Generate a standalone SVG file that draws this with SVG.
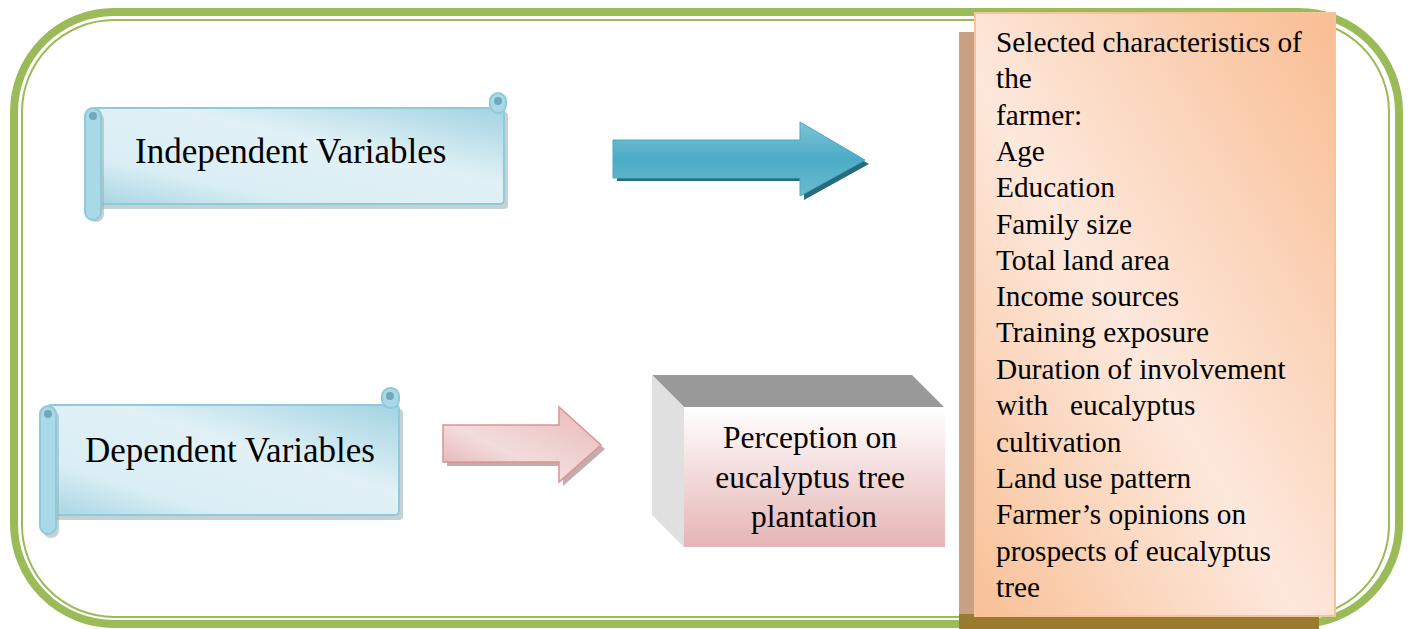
<svg xmlns="http://www.w3.org/2000/svg" width="1410" height="629" viewBox="0 0 1410 629">
<defs>
<linearGradient id="scrollG" x1="0" y1="1" x2="1" y2="0">
<stop offset="0" stop-color="#a6d5e3"/>
<stop offset="0.25" stop-color="#d9eef4"/>
<stop offset="0.6" stop-color="#e1f1f6"/>
<stop offset="1" stop-color="#a2d3e2"/>
</linearGradient>
<linearGradient id="blueArrow" x1="0" y1="0" x2="0" y2="1">
<stop offset="0" stop-color="#7fc3d6"/>
<stop offset="0.5" stop-color="#4bacc6"/>
<stop offset="1" stop-color="#6dbbd0"/>
</linearGradient>
<linearGradient id="pinkArrow" x1="0" y1="1" x2="1" y2="0">
<stop offset="0" stop-color="#e3a9a9"/>
<stop offset="0.4" stop-color="#f3dcdc"/>
<stop offset="1" stop-color="#e9b9b9"/>
</linearGradient>
<linearGradient id="frontG" x1="0" y1="0" x2="0" y2="1">
<stop offset="0" stop-color="#ffffff"/>
<stop offset="1" stop-color="#e6b4b4"/>
</linearGradient>
<linearGradient id="peach" x1="0" y1="1" x2="1" y2="0">
<stop offset="0" stop-color="#f9c096"/>
<stop offset="0.45" stop-color="#fde8dc"/>
<stop offset="1" stop-color="#f9bd92"/>
</linearGradient>
<style>
.frame{fill:none;stroke:#9bbb59}
.scroll{fill:url(#scrollG);stroke:#8fcadb;stroke-width:2}
.roll{fill:#a9d8e6;stroke:#8fcadb;stroke-width:2}
.curl{fill:#6fa9bb}
.shadow{fill:#9fb3b9;opacity:0.6}
.t{font-family:"Liberation Serif","Times New Roman",serif;fill:#000}
</style>
</defs>

<g id="frame">
<rect class="frame" x="14" y="12" width="1385" height="612" rx="100" stroke-width="8"/>
<rect class="frame" x="22" y="20" width="1367" height="597" rx="92" stroke-width="2"/>
</g>

<g id="independent">
<rect class="shadow" x="90" y="112" width="418" height="97" rx="4"/>
<rect class="scroll" x="92" y="108" width="412" height="96" rx="4"/>
<rect class="shadow" x="88" y="112" width="16" height="110" rx="8"/>
<rect class="roll" x="85" y="108" width="16" height="112" rx="8"/>
<circle class="curl" cx="93" cy="116" r="4"/>
<rect class="roll" x="490" y="93" width="16" height="20" rx="8"/>
<circle class="curl" cx="498" cy="101" r="4"/>
<text class="t" x="135" y="163" font-size="35">Independent Variables</text>
</g>

<g id="dependent">
<rect class="shadow" x="45" y="409" width="358" height="111" rx="4"/>
<rect class="scroll" x="47" y="405" width="352" height="110" rx="4"/>
<rect class="shadow" x="43" y="410" width="16" height="128" rx="8"/>
<rect class="roll" x="40" y="406" width="16" height="128" rx="8"/>
<circle class="curl" cx="48" cy="414" r="4"/>
<rect class="roll" x="382" y="388" width="17" height="20" rx="8"/>
<circle class="curl" cx="390" cy="396" r="4"/>
<text class="t" x="85" y="462" font-size="35">Dependent Variables</text>
</g>

<g id="connectors">
<polygon points="617,144 804,144 804,127 869,164 804,200 804,181 617,181" fill="#2a6a7d"/>
<polygon points="613,140 800,140 800,122 865,160 800,196 800,178 613,178" fill="url(#blueArrow)" stroke="#4aa9c3" stroke-width="1"/>
<polygon points="447,429 563,429 563,412 605,449 563,486 563,466 447,466" fill="#b79696" opacity="0.8"/>
<polygon points="443,425 559,425 559,407 601,445 559,482 559,462 443,462" fill="url(#pinkArrow)" stroke="#d99595" stroke-width="1.5"/>
</g>

<g id="perception">
<polygon points="652,375 912,375 944,407 684,407" fill="#999999"/>
<polygon points="652,375 684,407 684,547 652,515" fill="#e0e0e0"/>
<rect x="684" y="407" width="261" height="140" fill="url(#frontG)"/>
<text class="t" font-size="31.5" text-anchor="middle">
<tspan x="814" y="448">Perception on</tspan>
<tspan x="814" y="488">eucalyptus tree</tspan>
<tspan x="814" y="527">plantation</tspan>
</text>
</g>

<g id="characteristics">
<rect x="959" y="32" width="20" height="597" fill="#c9a084"/>
<rect x="959" y="614" width="360" height="15" fill="#9a7b2e"/>
<rect x="975" y="13" width="360" height="603" fill="url(#peach)" stroke="#f8c39a" stroke-width="2"/>
<text class="t" font-size="29.3">
<tspan x="996" y="52">Selected characteristics of</tspan>
<tspan x="996" y="88">the</tspan>
<tspan x="996" y="125">farmer:</tspan>
<tspan x="996" y="161">Age</tspan>
<tspan x="996" y="197">Education</tspan>
<tspan x="996" y="234">Family size</tspan>
<tspan x="996" y="270">Total land area</tspan>
<tspan x="996" y="306">Income sources</tspan>
<tspan x="996" y="342">Training exposure</tspan>
<tspan x="996" y="379">Duration of involvement</tspan>
<tspan x="996" y="415" xml:space="preserve">with   eucalyptus</tspan>
<tspan x="996" y="452">cultivation</tspan>
<tspan x="996" y="488">Land use pattern</tspan>
<tspan x="996" y="524">Farmer’s opinions on</tspan>
<tspan x="996" y="561">prospects of eucalyptus</tspan>
<tspan x="996" y="597">tree</tspan>
</text>
</g>
</svg>
